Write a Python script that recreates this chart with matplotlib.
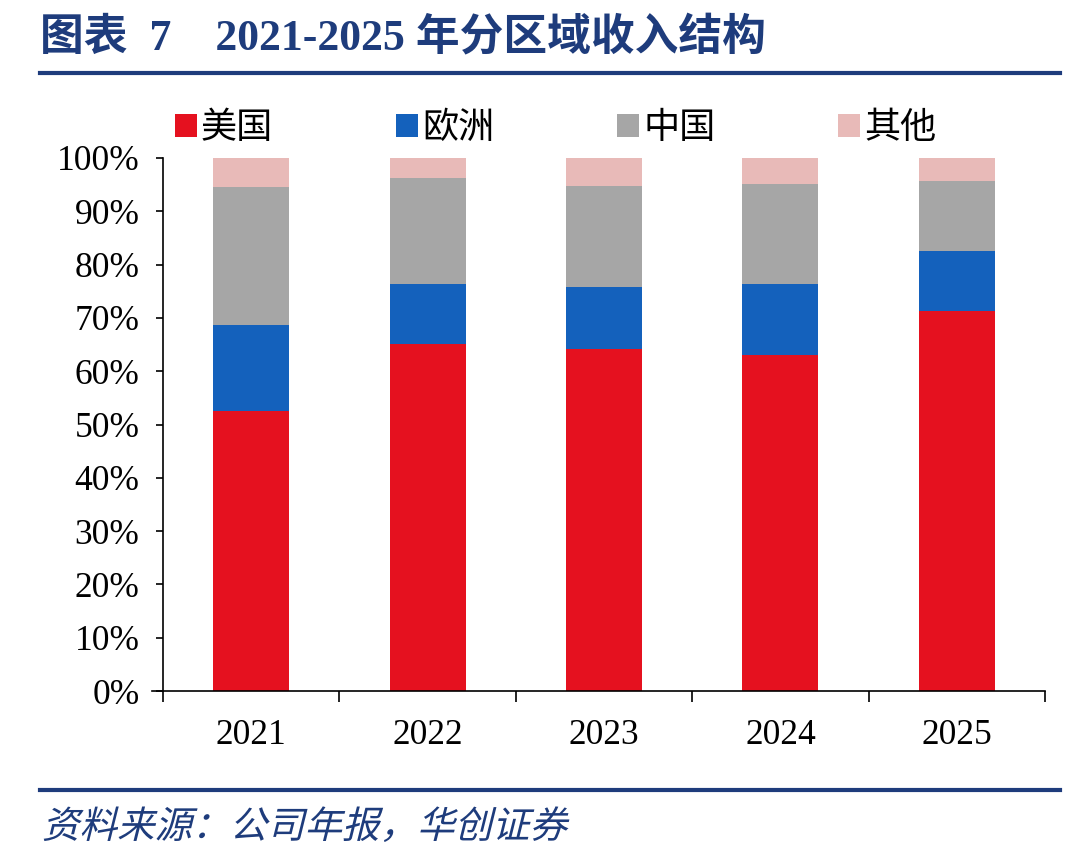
import numpy as np
import matplotlib.pyplot as plt
from matplotlib.patches import Patch, PathPatch
from matplotlib.textpath import TextPath
from matplotlib.font_manager import FontProperties
from matplotlib.transforms import Affine2D

# data (share of revenue, %)
years = ['2021', '2022', '2023', '2024', '2025']
regions = ['美国', '欧洲', '中国', '其他']
usa = [52.5, 65.1, 64.2, 63.0, 71.3]
europe = [16.2, 11.3, 11.6, 13.4, 11.3]
china = [25.9, 19.8, 18.9, 18.7, 13.1]
other = [5.4, 3.8, 5.3, 4.9, 4.3]

colors = ['#E5111F', '#1461BC', '#A6A6A6', '#E8BAB8']
navy = '#1E3C7C'

plt.rcParams['font.family'] = ['Liberation Serif', 'Noto Sans CJK SC']

fig = plt.figure(figsize=(10.8, 8.59), dpi=100)
ax = fig.add_axes([163 / 1080, 1 - 691 / 859, (1045 - 163) / 1080, (691 - 158) / 859])

x = np.arange(len(years))
bottom = np.zeros(len(years))
for vals, c, name in zip([usa, europe, china, other], colors, regions):
    ax.bar(x, vals, width=0.43, bottom=bottom, color=c, label=name, linewidth=0)
    bottom += np.array(vals)

ax.set_xlim(-0.5, len(years) - 0.5)
ax.set_ylim(0, 100)
ax.set_yticks(np.arange(0, 101, 10))
ax.set_yticklabels([f'{v}%' for v in range(0, 101, 10)], fontsize=25.5)
ax.set_xticks(np.arange(-0.5, len(years), 1.0))
ax.set_xticklabels([])
ax.set_xticks(x, minor=True)
ax.set_xticklabels(years, minor=True, fontsize=25.5)
ax.tick_params(axis='x', which='major', length=8, width=1.2, direction='out')
ax.tick_params(axis='x', which='minor', length=0, pad=20)
ax.tick_params(axis='y', length=5, width=1.2, pad=12)
for s in ['top', 'right']:
    ax.spines[s].set_visible(False)
ax.spines['left'].set_linewidth(1.2)
ax.spines['bottom'].set_linewidth(1.2)
ax.spines['bottom'].set_bounds(-0.56, len(years) - 0.5)

handles = [Patch(facecolor=c, edgecolor='none') for c in colors]
fig.legend(handles, regions, loc='center left', bbox_to_anchor=(175 / 1080, 1 - 128 / 859),
           ncol=4, frameon=False, prop={'family': 'Noto Sans CJK SC', 'size': 26},
           handlelength=0.62, handleheight=0.62, handletextpad=0.1, columnspacing=3.4,
           borderaxespad=0, borderpad=0)


# slanted text (the CJK fonts have no italic face)
def skew_text(x_px, y_px, s, size, color, weight='normal', family=None, skew=12):
    fp = FontProperties(family=family or ['Noto Sans CJK SC'], weight=weight)
    tp = TextPath((0, 0), s, size=size, prop=fp)
    tr = Affine2D().skew_deg(skew, 0).scale(100 / 72).translate(x_px, 859 - y_px)
    fig.add_artist(PathPatch(tr.transform_path(tp), facecolor=color, edgecolor='none',
                             transform=None))


# title
fig.text(40 / 1080, 1 - 38 / 859, '图表  7    2021-2025 年分区域收入结构', fontsize=31.5,
         fontweight='bold', color=navy, va='center', ha='left',
         family=['Liberation Serif', 'Noto Sans CJK SC'])

# rules
fig.add_artist(plt.Line2D([40 / 1080, 1060 / 1080], [1 - 73 / 859] * 2, color=navy, lw=3))
fig.add_artist(plt.Line2D([40 / 1080, 1060 / 1080], [1 - 790 / 859] * 2, color=navy, lw=3))

# source
skew_text(42, 838, '资料来源：公司年报，华创证券', 27, navy, skew=14)

fig.savefig('out.png', dpi=100)
